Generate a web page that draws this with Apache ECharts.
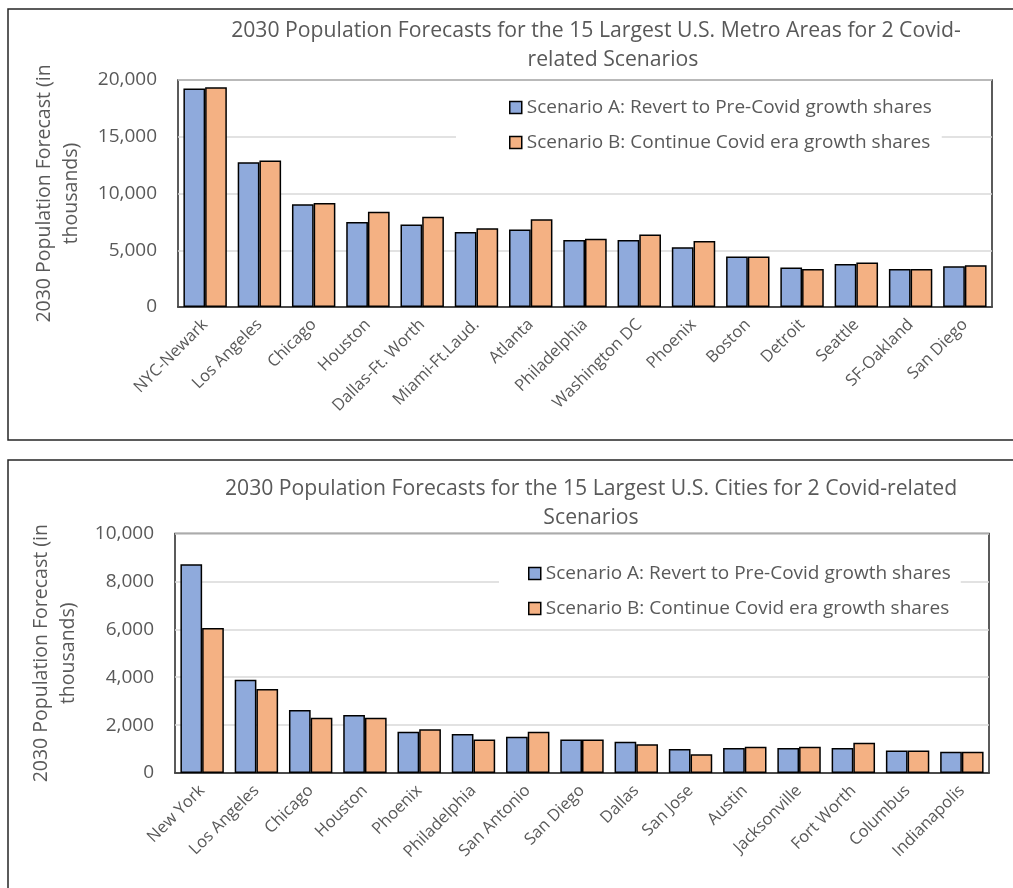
<!DOCTYPE html>
<html>
<head>
<meta charset="utf-8">
<script src="https://cdn.jsdelivr.net/npm/echarts@6/dist/echarts.min.js"></script>
<style>
  html, body { margin: 0; padding: 0; background: #fff; }
  #chart { width: 1013px; height: 888px; }
</style>
</head>
<body>
<div id="chart"></div>
<script>
// Metro areas (thousands)
const metroNames = ['NYC-Newark', 'Los Angeles', 'Chicago', 'Houston', 'Dallas-Ft. Worth',
  'Miami-Ft.Laud.', 'Atlanta', 'Philadelphia', 'Washington DC', 'Phoenix',
  'Boston', 'Detroit', 'Seattle', 'SF-Oakland', 'San Diego'];
const metroRevert = [19250, 12750, 9050, 7500, 7260, 6610, 6820, 5910, 5910, 5260, 4460, 3470, 3790, 3350, 3580];
const metroContinue = [19370, 12900, 9170, 8400, 7960, 6930, 7730, 6020, 6380, 5820, 4460, 3350, 3930, 3350, 3670];

// Cities (thousands)
const cityNames = ['New York', 'Los Angeles', 'Chicago', 'Houston', 'Phoenix',
  'Philadelphia', 'San Antonio', 'San Diego', 'Dallas', 'San Jose',
  'Austin', 'Jacksonville', 'Fort Worth', 'Columbus', 'Indianapolis'];
const cityRevert = [8720, 3890, 2630, 2420, 1720, 1630, 1510, 1400, 1300, 1000, 1040, 1040, 1040, 940, 890];
const cityContinue = [6050, 3510, 2310, 2310, 1830, 1400, 1720, 1400, 1200, 780, 1100, 1100, 1260, 940, 890];

const scenarioA = 'Scenario A: Revert to Pre-Covid growth shares';
const scenarioB = 'Scenario B: Continue Covid era growth shares';
const yName = '2030 Population Forecast (in\nthousands)';

const FONT = '"Open Sans"';
const TXT = '#595959';
const BLUE = '#8FAADC';
const ORANGE = '#F4B183';

const chart = echarts.init(document.getElementById('chart'), null, { renderer: 'canvas' });

function yAxis(gridIndex, max, interval) {
  return {
    type: 'value', gridIndex, min: 0, max, interval,
    name: yName, nameLocation: 'middle', nameRotate: 90, nameGap: 93,
    nameTextStyle: { color: TXT, fontFamily: FONT, fontSize: 19.5, lineHeight: 27, align: 'center' },
    axisLine: { show: false }, axisTick: { show: false },
    axisLabel: { color: TXT, fontFamily: FONT, fontSize: 19, margin: 21,
      formatter: v => v.toLocaleString('en-US') },
    splitLine: { lineStyle: { color: '#D9D9D9', width: 1.5 } }
  };
}
function xAxis(gridIndex, data) {
  return {
    type: 'category', gridIndex, data,
    axisLine: { lineStyle: { color: '#262626', width: 1.5 } },
    axisTick: { alignWithLabel: true, length: 5, lineStyle: { color: '#262626', width: 1.5 } },
    axisLabel: { rotate: 45, interval: 0, color: TXT, fontFamily: FONT, fontSize: 16.5, margin: 15 }
  };
}
function bars(name, data, color, idx) {
  return {
    type: 'bar', name, data, xAxisIndex: idx, yAxisIndex: idx,
    barGap: '0%', barCategoryGap: '20%',
    itemStyle: { color, borderColor: '#000', borderWidth: 1.5 },
    emphasis: { disabled: true }, animation: false
  };
}
function legend(left, top, padding) {
  return {
    orient: 'vertical', left, top, padding,
    backgroundColor: '#fff',
    data: [scenarioA, scenarioB],
    icon: 'rect', itemWidth: 12, itemHeight: 12, itemGap: 16,
    itemStyle: { borderColor: '#000', borderWidth: 1.5 },
    textStyle: { color: TXT, fontFamily: FONT, fontSize: 19, lineHeight: 19 },
    selectedMode: false
  };
}
const titleStyle = { color: TXT, fontFamily: FONT, fontSize: 21.2, fontWeight: 'normal' };
function titleLine(text, x, y) {
  return { text, left: x, top: y, padding: 0, textAlign: 'center', textStyle: titleStyle };
}

chart.setOption({
  animation: false,
  title: [
    titleLine('2030 Population Forecasts for the 15 Largest U.S. Metro Areas for 2 Covid-', 596, 20),
    titleLine('related Scenarios', 613, 49),
    titleLine('2030 Population Forecasts for the 15 Largest U.S. Cities for 2 Covid-related', 591, 478),
    titleLine('Scenarios', 591, 507)
  ],
  legend: [
    legend(456, 89, [9, 10, 9, 53]),
    legend(499, 555, [9, 10, 9, 29])
  ],
  grid: [
    { left: 178, top: 80, width: 814, height: 227, show: true, borderColor: '#262626', borderWidth: 1.5, backgroundColor: 'transparent' },
    { left: 175, top: 533.5, width: 814, height: 239.5, show: true, borderColor: '#262626', borderWidth: 1.5, backgroundColor: 'transparent' }
  ],
  xAxis: [xAxis(0, metroNames), xAxis(1, cityNames)],
  yAxis: [yAxis(0, 20000, 5000), yAxis(1, 10000, 2000)],
  series: [
    bars(scenarioA, metroRevert, BLUE, 0),
    bars(scenarioB, metroContinue, ORANGE, 0),
    bars(scenarioA, cityRevert, BLUE, 1),
    bars(scenarioB, cityContinue, ORANGE, 1)
  ],
  graphic: [
    { type: 'rect', shape: { x: 8, y: 9, width: 1020, height: 431 }, style: { fill: 'none', stroke: '#262626', lineWidth: 1.5 }, silent: true, z: 100 },
    { type: 'rect', shape: { x: 8, y: 460, width: 1020, height: 500 }, style: { fill: 'none', stroke: '#262626', lineWidth: 1.5 }, silent: true, z: 100 }
  ]
});
</script>
</body>
</html>
